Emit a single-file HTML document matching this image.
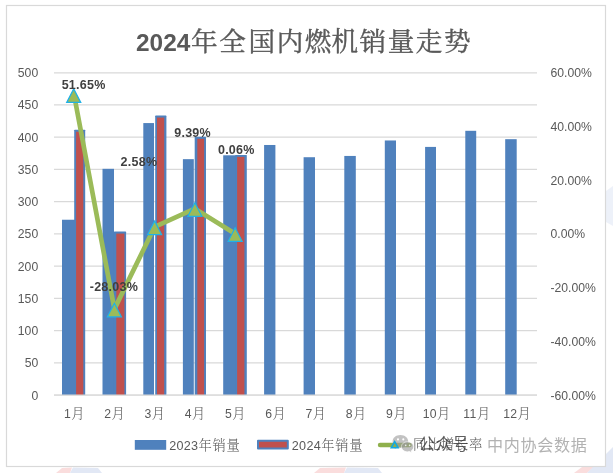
<!DOCTYPE html>
<html lang="zh-CN">
<head>
<meta charset="utf-8">
<title>2024年全国内燃机销量走势</title>
<style>
html,body{margin:0;padding:0;background:#fff;}
body{width:613px;height:473px;overflow:hidden;}
svg{display:block;}
.ax{font-family:"Liberation Sans", sans-serif;font-size:12.2px;fill:#595959;}
.cj{font-family:"Noto Serif CJK SC", "Liberation Serif", serif;font-size:13.3px;letter-spacing:0.7px;font-weight:300;}
.lg{font-size:12.6px;letter-spacing:0.3px;}
.dl{font-family:"Liberation Sans", sans-serif;font-size:12.5px;font-weight:bold;fill:#404040;letter-spacing:0.25px;}
.tt{font-family:"Liberation Sans", sans-serif;font-size:24.4px;font-weight:bold;fill:#595959;}
.tc{font-family:"Noto Serif CJK SC", "Liberation Serif", serif;font-size:26.6px;font-weight:400;stroke:#595959;stroke-width:0.4px;letter-spacing:1.5px;}
.wm{font-family:"Noto Sans CJK SC", "Liberation Sans", sans-serif;}
</style>
</head>
<body>
<svg width="613" height="473" viewBox="0 0 613 473">
<rect x="0" y="0" width="613" height="473" fill="#fff"/>
<g opacity="0.17">
<path d="M56 473 L62 468 L72 467.5 L70 473 Z" fill="#e0393a"/><path d="M70 473 L73 467.5 L98 468 L102 473 Z" fill="#5577c4"/>
<path d="M314 473 L320 468 L346 467.5 L344 473 Z" fill="#e0393a"/><path d="M344 473 L347 467.5 L378 468 L382 473 Z" fill="#5577c4"/>
<path d="M574 473 L582 467 L594 467 L587 473 Z" fill="#e0393a"/><path d="M587 473 L613 447 L613 473 Z" fill="#5577c4"/>
<path d="M606 191 L613 186 L613 226 L606 222 Z" fill="#5577c4" opacity="0.6"/>
</g>
<rect x="6.5" y="5.5" width="599" height="461" fill="#fff" stroke="#D9D9D9" stroke-width="1.2"/>
<g stroke="#D9D9D9" stroke-width="1.25">
<line x1="54.0" y1="395.00" x2="537.0" y2="395.00"/>
<line x1="54.0" y1="362.77" x2="537.0" y2="362.77"/>
<line x1="54.0" y1="330.55" x2="537.0" y2="330.55"/>
<line x1="54.0" y1="298.32" x2="537.0" y2="298.32"/>
<line x1="54.0" y1="266.10" x2="537.0" y2="266.10"/>
<line x1="54.0" y1="233.88" x2="537.0" y2="233.88"/>
<line x1="54.0" y1="201.65" x2="537.0" y2="201.65"/>
<line x1="54.0" y1="169.43" x2="537.0" y2="169.43"/>
<line x1="54.0" y1="137.20" x2="537.0" y2="137.20"/>
<line x1="54.0" y1="104.98" x2="537.0" y2="104.98"/>
<line x1="54.0" y1="72.75" x2="537.0" y2="72.75"/>
</g>
<g fill="#4F81BD">
<rect x="62.00" y="219.74" width="13.00" height="175.26"/>
<rect x="102.50" y="168.83" width="11.50" height="226.17"/>
<rect x="143.30" y="123.07" width="10.70" height="271.93"/>
<rect x="182.90" y="159.16" width="10.90" height="235.84"/>
<rect x="223.20" y="155.29" width="12.80" height="239.71"/>
<rect x="264.10" y="144.98" width="11.30" height="250.02"/>
<rect x="303.60" y="157.22" width="11.40" height="237.78"/>
<rect x="344.30" y="155.94" width="11.50" height="239.06"/>
<rect x="384.80" y="140.47" width="11.20" height="254.53"/>
<rect x="425.10" y="146.91" width="10.90" height="248.09"/>
<rect x="465.30" y="130.80" width="10.90" height="264.20"/>
<rect x="505.20" y="139.18" width="11.50" height="255.82"/>
</g>
<rect x="74.20" y="129.75" width="11.00" height="265.25" rx="0.6" fill="#4F81BD"/><rect x="76.10" y="131.75" width="7.20" height="263.25" fill="#C0504D"/>
<rect x="113.90" y="231.59" width="12.20" height="163.41" rx="0.6" fill="#4F81BD"/><rect x="116.30" y="233.59" width="8.10" height="161.41" fill="#C0504D"/>
<rect x="155.20" y="115.58" width="11.20" height="279.42" rx="0.6" fill="#4F81BD"/><rect x="157.00" y="117.58" width="7.20" height="277.42" fill="#C0504D"/>
<rect x="194.70" y="136.84" width="11.30" height="258.16" rx="0.6" fill="#4F81BD"/><rect x="197.30" y="138.84" width="6.80" height="256.16" fill="#C0504D"/>
<rect x="235.30" y="154.89" width="11.50" height="240.11" rx="0.6" fill="#4F81BD"/><rect x="237.10" y="156.89" width="7.30" height="238.11" fill="#C0504D"/>
<line x1="54.0" y1="395.00" x2="537.0" y2="395.00" stroke="#D9D9D9" stroke-width="1.1"/>
<polyline points="74.12,95.17 114.38,309.15 154.62,226.95 194.88,208.66 235.12,233.71" fill="none" stroke="#9BBB59" stroke-width="4.7" stroke-linejoin="round" stroke-linecap="round"/>
<g fill="#9BBB59" stroke="#1FB1E8" stroke-width="1.25" stroke-linejoin="miter">
<polygon points="73.72,88.87 80.72,102.37 66.72,102.37"/>
<polygon points="114.38,303.25 121.38,316.75 107.38,316.75"/>
<polygon points="154.62,221.05 161.62,234.55 147.62,234.55"/>
<polygon points="194.88,202.76 201.88,216.26 187.88,216.26"/>
<polygon points="235.12,227.81 242.12,241.31 228.12,241.31"/>
</g>
<g class="ax" text-anchor="end">
<text x="38.2" y="399.50">0</text>
<text x="38.2" y="367.27">50</text>
<text x="38.2" y="335.05">100</text>
<text x="38.2" y="302.82">150</text>
<text x="38.2" y="270.60">200</text>
<text x="38.2" y="238.38">250</text>
<text x="38.2" y="206.15">300</text>
<text x="38.2" y="173.93">350</text>
<text x="38.2" y="141.70">400</text>
<text x="38.2" y="109.48">450</text>
<text x="38.2" y="77.25">500</text>
</g>
<g class="ax">
<text x="550.5" y="399.60">-60.00%</text>
<text x="550.5" y="345.89">-40.00%</text>
<text x="550.5" y="292.18">-20.00%</text>
<text x="550.5" y="238.47">0.00%</text>
<text x="550.5" y="184.77">20.00%</text>
<text x="550.5" y="131.06">40.00%</text>
<text x="550.5" y="77.35">60.00%</text>
</g>
<g class="ax" text-anchor="middle" style="letter-spacing:0.3px">
<text x="74.62" y="417.8">1<tspan class="cj" dx="0.3">月</tspan></text>
<text x="114.88" y="417.8">2<tspan class="cj" dx="0.3">月</tspan></text>
<text x="155.12" y="417.8">3<tspan class="cj" dx="0.3">月</tspan></text>
<text x="195.38" y="417.8">4<tspan class="cj" dx="0.3">月</tspan></text>
<text x="235.62" y="417.8">5<tspan class="cj" dx="0.3">月</tspan></text>
<text x="275.88" y="417.8">6<tspan class="cj" dx="0.3">月</tspan></text>
<text x="316.12" y="417.8">7<tspan class="cj" dx="0.3">月</tspan></text>
<text x="356.38" y="417.8">8<tspan class="cj" dx="0.3">月</tspan></text>
<text x="396.62" y="417.8">9<tspan class="cj" dx="0.3">月</tspan></text>
<text x="436.88" y="417.8">10<tspan class="cj" dx="0.3">月</tspan></text>
<text x="477.12" y="417.8">11<tspan class="cj" dx="0.3">月</tspan></text>
<text x="517.38" y="417.8">12<tspan class="cj" dx="0.3">月</tspan></text>
</g>
<g class="dl" text-anchor="middle">
<text x="83.6" y="88.8">51.65%</text>
<text x="113.9" y="291.0">-28.03%</text>
<text x="138.9" y="166.2">2.58%</text>
<text x="192.6" y="136.7">9.39%</text>
<text x="236.3" y="154.4">0.06%</text>
</g>
<text class="tt" x="136" y="51">2024<tspan class="tc" dx="0.8">年全<tspan dx="1.3">国内燃</tspan><tspan dx="-1.3">机销量走势</tspan></tspan></text>
<rect x="134.8" y="440" width="31.4" height="9.8" fill="#4F81BD"/>
<text class="ax lg" x="169.2" y="449.7">2023<tspan class="cj" dx="0.2">年销量</tspan></text>
<rect x="258" y="440.8" width="29.8" height="7.8" fill="#C0504D" stroke="#4F81BD" stroke-width="2" stroke-linejoin="round"/>
<text class="ax lg" x="291.8" y="449.7">2024<tspan class="cj" dx="0.2">年销量</tspan></text>
<line x1="380" y1="445" x2="409.6" y2="445" stroke="#8FB04C" stroke-width="4.4" stroke-linecap="round"/>
<text class="ax cj" x="413.1" y="449.2" style="letter-spacing:0.65px">同比增长率</text>
<g fill="#9c9c9c" opacity="0.62" transform="translate(0,1.5)">
<path d="M400.4 433.4 C395.9 433.4 392.6 436.3 392.6 439.9 C392.6 442 393.7 443.8 395.5 445 L394.6 447.6 L397.6 446 C398.5 446.3 399.4 446.4 400.4 446.4 C404.9 446.4 408.2 443.5 408.2 439.9 C408.2 436.3 404.9 433.4 400.4 433.4 Z"/>
</g>
<g fill="#9c9c9c" opacity="0.62" stroke="#fff" stroke-width="0.9" transform="translate(0,1.1)">
<path d="M407.6 440.6 C404 440.6 401.4 442.9 401.4 445.7 C401.4 448.5 404 450.8 407.6 450.8 C408.3 450.8 409 450.7 409.6 450.5 L412 451.9 L411.4 449.7 C412.9 448.8 413.8 447.3 413.8 445.7 C413.8 442.9 411.2 440.6 407.6 440.6 Z"/>
</g>
<g fill="#fff"><circle cx="398" cy="439.4" r="1.05"/><circle cx="403.3" cy="439.4" r="1.05"/><circle cx="405.7" cy="445.4" r="0.8" opacity="0.8"/><circle cx="409.6" cy="445.4" r="0.8" opacity="0.8"/></g>
<polygon points="394.7,441.7 398.1,447.8 391.3,447.8" fill="#8FB04C" stroke="#12A6E2" stroke-width="1.6"/>
<text x="418.6" y="450.2" fill="#383838" opacity="0.8" class="wm" style="font-size:16.5px;letter-spacing:0.3px;">公众号</text>
<text x="487" y="451" fill="#b2b2b2" class="wm" style="font-size:16.1px;letter-spacing:0.65px;">中内协会数据</text>
</svg>
</body>
</html>
